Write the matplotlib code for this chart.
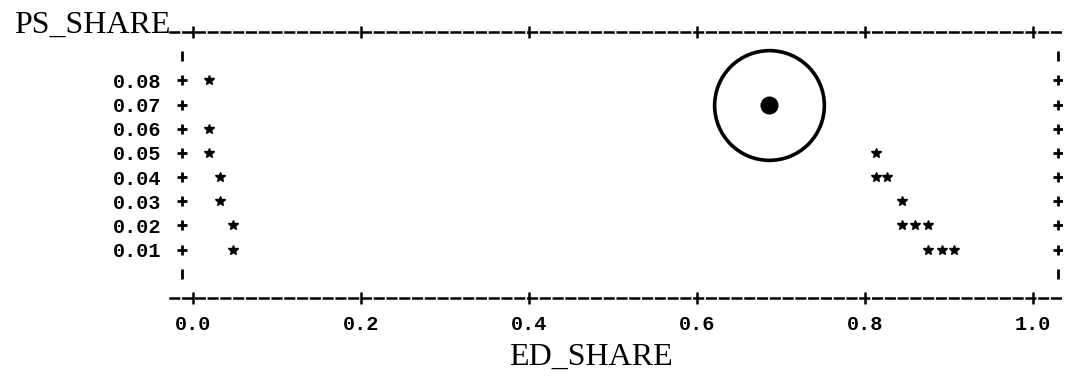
import numpy as np
import matplotlib
matplotlib.use("Agg")
import matplotlib.pyplot as plt

plt.rcParams['lines.scale_dashes'] = False

# ED_SHARE / PS_SHARE pairs
ed_left = [0.019, 0.019, 0.019, 0.032, 0.032, 0.048, 0.048]
ps_left = [0.08, 0.06, 0.05, 0.04, 0.03, 0.02, 0.01]
ed_right = [0.814, 0.814, 0.827, 0.844, 0.844, 0.860, 0.875, 0.875, 0.892, 0.907]
ps_right = [0.05, 0.04, 0.04, 0.03, 0.02, 0.02, 0.02, 0.01, 0.01, 0.01]
ed_mark, ps_mark = 0.686, 0.07

xticks = [0.0, 0.2, 0.4, 0.6, 0.8, 1.0]
xlabels = ["0.0", "0.2", "0.4", "0.6", "0.8", "1.0"]
yticks = [0.01, 0.02, 0.03, 0.04, 0.05, 0.06, 0.07, 0.08]
ylabels = ["0.01", "0.02", "0.03", "0.04", "0.05", "0.06", "0.07", "0.08"]
yrules = [0.0, 0.09]

fig = plt.figure(figsize=(10.68, 3.84), dpi=100)
ax = fig.add_axes([170 / 1068, 86 / 384, 892 / 1068, 266 / 384])
ax.set_xlim(-0.027, 1.035)
ax.set_ylim(-0.01, 0.10)

mono = dict(family="Liberation Mono", weight="bold", size=14.5)

# dashed top/bottom rules like a line-printer plot
for s in ["left", "right"]:
    ax.spines[s].set_visible(False)
for s in ["top", "bottom"]:
    ax.spines[s].set_linestyle((0, (6.2, 3.0)))
    ax.spines[s].set_linewidth(1.8)

ax.set_xticks(xticks, xlabels, fontdict=mono)
ax.tick_params(axis="x", which="both", top=True, bottom=True, direction="inout",
               length=8, width=1.8, pad=8)
ax.set_yticks(yticks, ylabels, fontdict=mono)
ax.tick_params(axis="y", length=0, pad=6)

# side "+" marks and "I" rules
for xs in [-0.013, 1.03]:
    ax.plot(np.full(len(yticks), xs), yticks, "+", color="black", ms=7.5, mew=2)
    ax.plot(np.full(len(yrules), xs), yrules, "|", color="black", ms=7, mew=2)

ax.plot(ed_left, ps_left, "*", color="black", ms=7, ls="none")
ax.plot(ed_right, ps_right, "*", color="black", ms=7, ls="none")

# highlighted point
ax.plot(ed_mark, ps_mark, "o", ms=79, mfc="none", mec="black", mew=2.6)
ax.plot(ed_mark, ps_mark, "o", ms=12, color="black")

fig.text(14 / 1068, 1 - 33 / 384, "PS_SHARE", ha="left", va="baseline",
         family="Liberation Serif", size=23)
fig.text(591 / 1068, 1 - 365 / 384, "ED_SHARE", ha="center", va="baseline",
         family="Liberation Serif", size=23)

fig.savefig("out.png", dpi=100)
